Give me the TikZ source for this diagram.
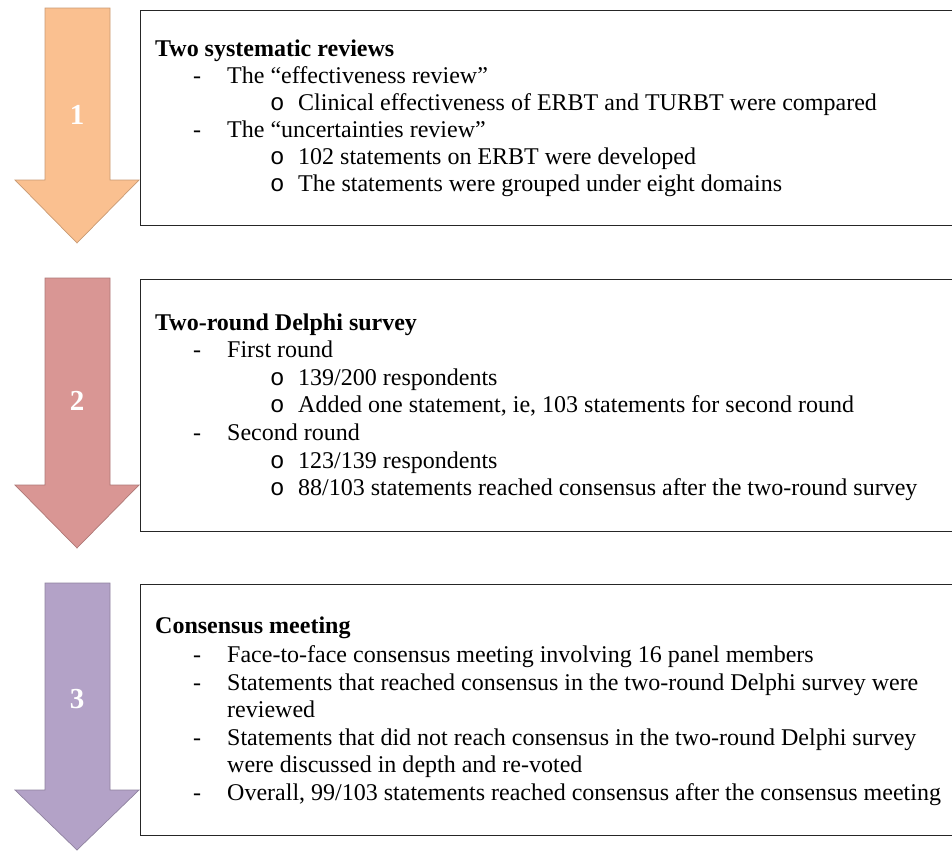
\documentclass[tikz,border=0pt]{standalone}
\usepackage{fontspec}
\setmainfont{Liberation Serif}
\newfontfamily\bulletfont{Liberation Mono}

\definecolor{stageorange}{HTML}{FAC090}
\definecolor{stagerose}{HTML}{D99694}
\definecolor{stagelilac}{HTML}{B3A2C7}

\tikzset{
  panel/.style={draw=black!85, line width=1.3pt, fill=white, inner sep=0pt,
                anchor=north west, minimum width=840pt},
  txt/.style={anchor=base west, inner sep=0pt, font=\fontsize{24}{27.5}\selectfont},
  headtxt/.style={anchor=base west, inner sep=0pt, font=\fontsize{24}{27.5}\selectfont\bfseries},
  bul/.style={anchor=base west, inner sep=0pt, font=\fontsize{24}{27.5}\selectfont\bulletfont},
  num/.style={text=white, inner sep=0pt, font=\fontsize{29}{30}\selectfont\bfseries},
  stagearrow/.style={fill=#1, draw=#1!80!black, line width=0.7pt, line join=miter}
}

% block arrow: {top}{start of head}{tip}{colour}
\newcommand\blockarrow[4]{%
  \path[stagearrow=#4] (45,#1) -- (110,#1) -- (110,#2) -- (139,#2) -- (77,#3)
    -- (15,#2) -- (45,#2) -- cycle;}

\begin{document}
\begin{tikzpicture}[x=1pt,y=-1pt]
\useasboundingbox (0,0) rectangle (952,852);
\clip (0,0) rectangle (952,852);

% stage arrows
\blockarrow{8}{180}{243}{stageorange}
\blockarrow{278}{485}{548}{stagerose}
\blockarrow{583}{790}{850}{stagelilac}
\node[num] (n1) at (77,115) {1};
\node[num] (n2) at (77,401) {2};
\node[num] (n3) at (77,699) {3};

% panels
\node[panel, minimum height=215pt] (b1) at (140,10) {};
\node[panel, minimum height=252pt] (b2) at (140,279) {};
\node[panel, minimum height=251pt] (b3) at (140,584) {};

% stage 1
\node[headtxt] (h1) at (155,56) {Two systematic reviews};
\node[txt] (d1a) at (193,83) {-};
\node[txt] (t1a) at (227,83) {The “effectiveness review”};
\node[bul] (o1a) at (270,110) {o};
\node[txt] (s1a) at (298,110) {Clinical effectiveness of ERBT and TURBT were compared};
\node[txt] (d1b) at (193,137) {-};
\node[txt] (t1b) at (227,137) {The “uncertainties review”};
\node[bul] (o1b) at (270,164) {o};
\node[txt] (s1b) at (298,164) {102 statements on ERBT were developed};
\node[bul] (o1c) at (270,191) {o};
\node[txt] (s1c) at (298,191) {The statements were grouped under eight domains};

% stage 2
\node[headtxt] (h2) at (155,330) {Two-round Delphi survey};
\node[txt] (d2a) at (193,357) {-};
\node[txt] (t2a) at (227,357) {First round};
\node[bul] (o2a) at (270,385) {o};
\node[txt] (s2a) at (298,385) {139/200 respondents};
\node[bul] (o2b) at (270,412) {o};
\node[txt] (s2b) at (298,412) {Added one statement, ie, 103 statements for second round};
\node[txt] (d2b) at (193,440) {-};
\node[txt] (t2b) at (227,440) {Second round};
\node[bul] (o2c) at (270,468) {o};
\node[txt] (s2c) at (298,468) {123/139 respondents};
\node[bul] (o2d) at (270,495) {o};
\node[txt] (s2d) at (298,495) {88/103 statements reached consensus after the two-round survey};

% stage 3
\node[headtxt] (h3) at (155,633) {Consensus meeting};
\node[txt] (d3a) at (193,662) {-};
\node[txt] (t3a) at (227,662) {Face-to-face consensus meeting involving 16 panel members};
\node[txt] (d3b) at (193,690) {-};
\node[txt] (t3b) at (227,690) {Statements that reached consensus in the two-round Delphi survey were};
\node[txt] (t3c) at (227,717) {reviewed};
\node[txt] (d3d) at (193,745) {-};
\node[txt] (t3d) at (227,745) {Statements that did not reach consensus in the two-round Delphi survey};
\node[txt] (t3e) at (227,772) {were discussed in depth and re-voted};
\node[txt] (d3f) at (193,800) {-};
\node[txt] (t3f) at (227,800) {Overall, 99/103 statements reached consensus after the consensus meeting};
\end{tikzpicture}
\end{document}
